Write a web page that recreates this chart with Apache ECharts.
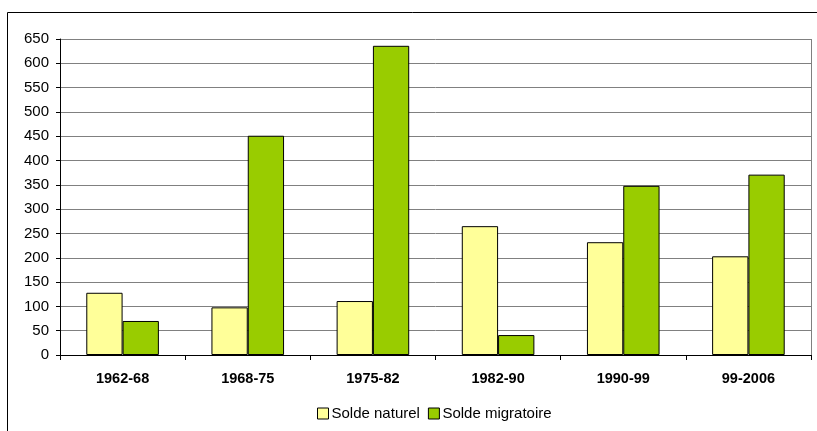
<!DOCTYPE html>
<html>
<head>
<meta charset="utf-8">
<script src="https://cdn.jsdelivr.net/npm/echarts@6/dist/echarts.min.js"></script>
<style>
  html, body { margin: 0; padding: 0; background: #fff; }
  #chart { width: 817px; height: 431px; }
</style>
</head>
<body>
<div id="chart"></div>
<script>
  var periodes = ['1962-68', '1968-75', '1975-82', '1982-90', '1990-99', '99-2006'];
  var soldeNaturel = [128, 98, 111, 265, 232, 203];
  var soldeMigratoire = [70, 451, 636, 41, 348, 371];

  var chart = echarts.init(document.getElementById('chart'));
  var option = {
    animation: false,
    textStyle: { fontFamily: 'Liberation Sans, Arial, sans-serif' },
    graphic: [{
      type: 'rect',
      shape: { x: 7.5, y: 12.5, width: 900, height: 500 },
      style: { fill: 'none', stroke: '#000', lineWidth: 1 },
      silent: true
    }, {
      // bord droit de la zone de tracé
      type: 'line',
      shape: { x1: 811.5, y1: 39, x2: 811.5, y2: 355 },
      style: { stroke: '#808080', lineWidth: 1 },
      silent: true
    }],
    grid: { left: 60, right: 6, top: 39, bottom: 76 },
    legend: {
      bottom: 5,
      left: 312,
      icon: 'rect',
      itemWidth: 11,
      itemHeight: 11,
      itemGap: 8,
      itemStyle: { borderColor: '#000', borderWidth: 1 },
      textStyle: { fontSize: 15, color: '#000', padding: [0, 0, 0, -2] },
      data: ['Solde naturel', 'Solde migratoire']
    },
    xAxis: {
      type: 'category',
      data: periodes,
      axisLine: { lineStyle: { color: '#000' } },
      axisTick: { show: true, length: 5, lineStyle: { color: '#000' } },
      axisLabel: { fontSize: 14.5, fontWeight: 'bold', color: '#000', margin: 16 }
    },
    yAxis: {
      type: 'value',
      min: 0,
      max: 650,
      interval: 50,
      axisLine: { show: true, lineStyle: { color: '#000' } },
      axisTick: { show: true, length: 4, lineStyle: { color: '#000' } },
      axisLabel: { fontSize: 15, color: '#000', margin: 11 },
      splitLine: { lineStyle: { color: '#808080' } }
    },
    series: [{
      name: 'Solde naturel',
      type: 'bar',
      data: soldeNaturel,
      barGap: '0%',
      barCategoryGap: '42%',
      itemStyle: { color: '#FFFF99', borderColor: '#000', borderWidth: 1 }
    }, {
      name: 'Solde migratoire',
      type: 'bar',
      data: soldeMigratoire,
      itemStyle: { color: '#99CC00', borderColor: '#000', borderWidth: 1 }
    }]
  };
  chart.setOption(option);
</script>
</body>
</html>
